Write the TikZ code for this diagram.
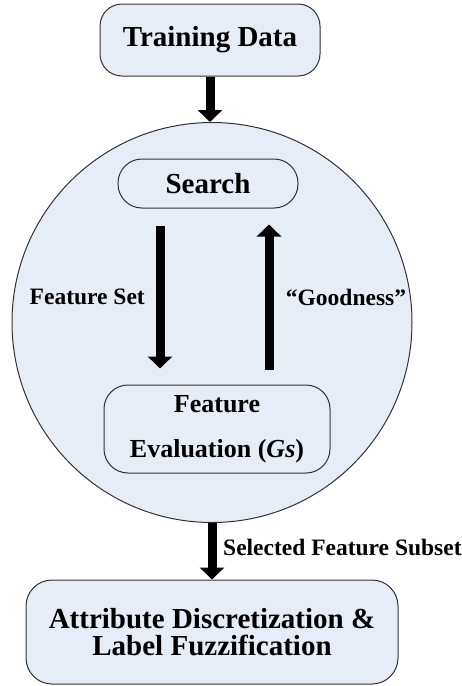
\documentclass[tikz,border=0pt]{standalone}
\usepackage{fontspec}
\setmainfont{Liberation Serif}
\usetikzlibrary{arrows.meta}
\definecolor{boxfill}{RGB}{231,237,246}
\definecolor{boxline}{RGB}{50,50,50}
\tikzset{
  rbox/.style={draw=boxline, line width=1pt, fill=boxfill, align=center, inner sep=0pt, font=\bfseries},
  bigarrow/.style={line width=9pt, -{Triangle[width=24pt,length=12pt]}},
  lbl/.style={inner sep=0pt, font=\fontsize{23.5}{26}\selectfont\bfseries}
}
\begin{document}
\begin{tikzpicture}[x=1pt,y=-1pt]
\useasboundingbox (0,0) rectangle (462,686);
\node[draw=boxline, line width=1pt, fill=boxfill, circle, minimum size=400pt, inner sep=0pt] (circ) at (212,322.5) {};
\node[rbox, rounded corners=22pt, minimum width=220pt, minimum height=72pt, font=\fontsize{29}{32}\selectfont\bfseries] (train) at (210,40) {Training Data};
\node[rbox, rounded corners=24pt, minimum width=180pt, minimum height=49pt, font=\fontsize{29}{32}\selectfont\bfseries] (search) at (208,183.5) {Search};
\node[rbox, rounded corners=24pt, minimum width=226pt, minimum height=88pt, font=\fontsize{26}{45}\selectfont\bfseries] (feval) at (217,429) {Feature\\Evaluation (\textit{Gs})};
\node[rbox, rounded corners=26pt, minimum width=372pt, minimum height=104pt, font=\fontsize{29}{27}\selectfont\bfseries] (attr) at (212,632) {Attribute Discretization \&\\Label Fuzzification};
\draw[bigarrow] (train.south) -- (train.south |- circ.north);
\draw[bigarrow] ([xshift=-48pt,yshift=-17pt]search.south) -- ([xshift=-57pt,yshift=16pt]feval.north);
\draw[bigarrow] ([xshift=52pt,yshift=15pt]feval.north) -- ([xshift=61pt,yshift=-16pt]search.south);
\draw[bigarrow] (circ.south) -- (attr.north);
\node[lbl, anchor=east] (fs) at (145,297) {Feature Set};
\node[lbl] (good) at (346,297) {“Goodness”};
\node[lbl, anchor=west] (sel) at (223,547) {Selected Feature Subset};
\end{tikzpicture}
\end{document}
